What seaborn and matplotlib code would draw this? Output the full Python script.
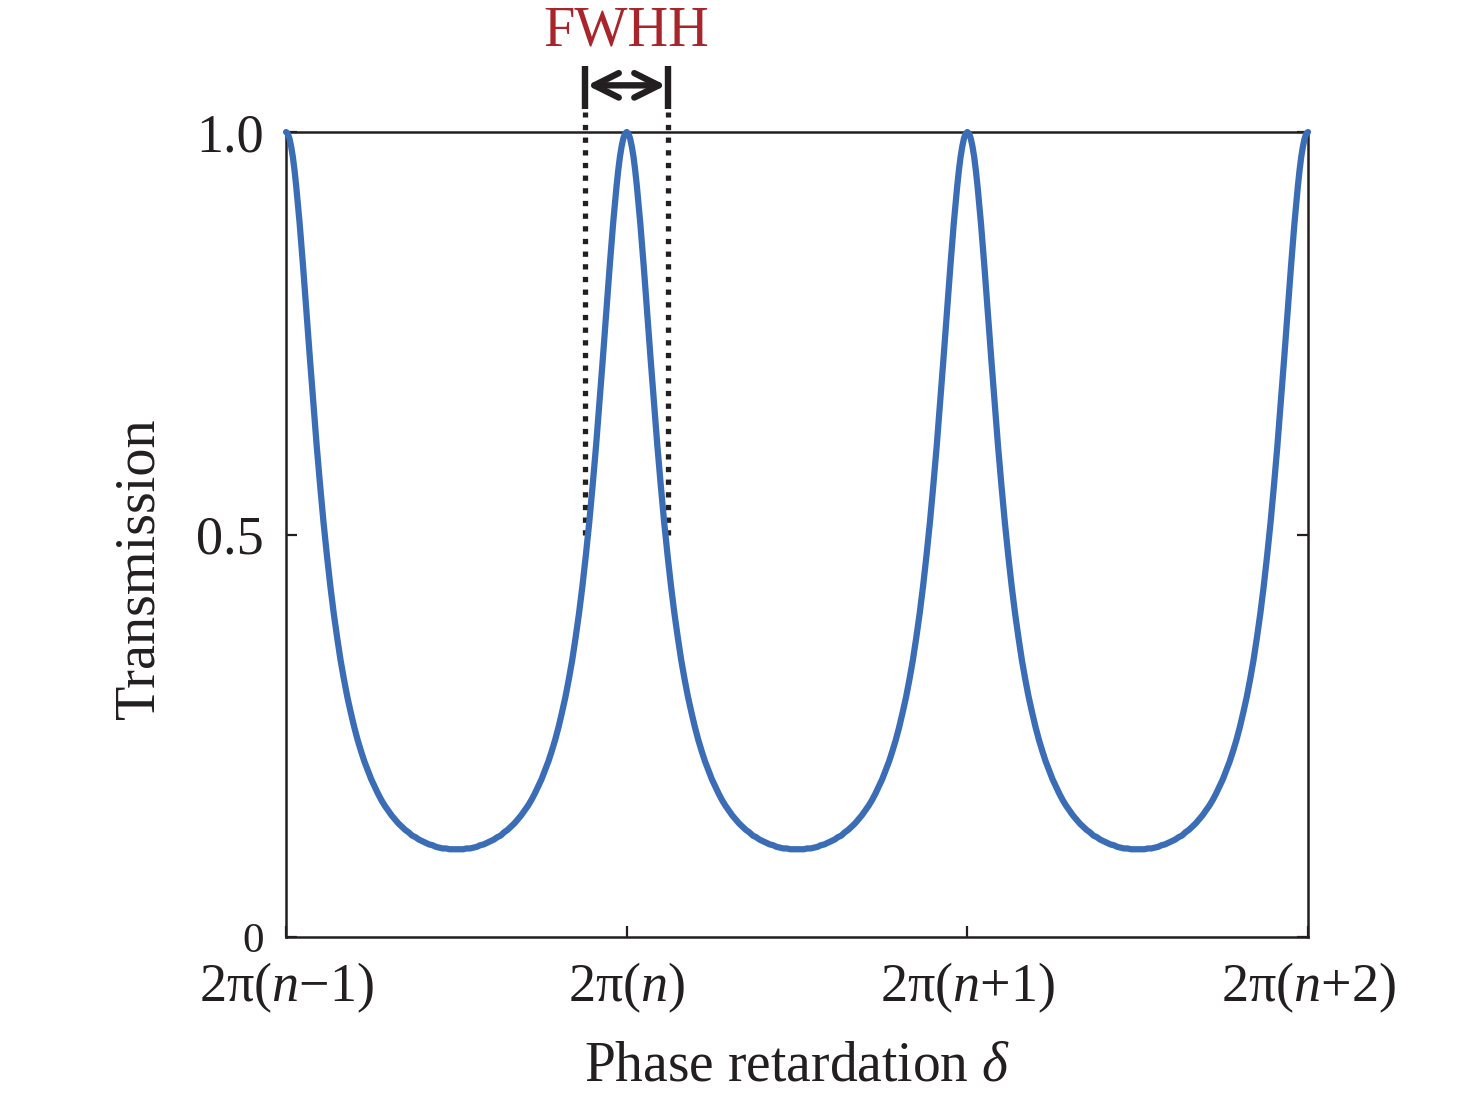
import numpy as np
import pandas as pd
import seaborn as sns
import matplotlib
matplotlib.use('Agg')
import matplotlib.pyplot as plt

# Values: half a period of the transmission curve,
# from a peak (0) to the trough (0.5). The curve is symmetric about the trough.
half_pos = [0.000, 0.005, 0.010, 0.015, 0.020, 0.025, 0.030, 0.040, 0.050, 0.060,
            0.070, 0.080, 0.090, 0.100, 0.110, 0.120, 0.130, 0.140, 0.150, 0.160,
            0.170, 0.180, 0.190, 0.200, 0.210, 0.220, 0.230, 0.240, 0.250, 0.260,
            0.270, 0.280, 0.290, 0.300, 0.310, 0.320, 0.330, 0.340, 0.350, 0.360,
            0.370, 0.380, 0.390, 0.400, 0.410, 0.420, 0.430, 0.440, 0.450, 0.460,
            0.470, 0.480, 0.490, 0.500]
half_val = [1.000, 0.998, 0.992, 0.982, 0.969, 0.952, 0.932, 0.886, 0.833, 0.776,
            0.719, 0.664, 0.610, 0.561, 0.515, 0.474, 0.436, 0.402, 0.372, 0.344,
            0.320, 0.298, 0.279, 0.261, 0.245, 0.231, 0.218, 0.207, 0.196, 0.187,
            0.178, 0.170, 0.163, 0.157, 0.151, 0.146, 0.141, 0.137, 0.133, 0.130,
            0.126, 0.124, 0.121, 0.119, 0.117, 0.115, 0.114, 0.112, 0.111, 0.110,
            0.110, 0.109, 0.109, 0.109]
n_periods = 3

x_ticks = [0, 1, 2, 3]
x_ticklabels = [r'2π($n$−1)', r'2π($n$)', r'2π($n$+1)', r'2π($n$+2)']
y_ticks = [0, 0.5, 1.0]
y_ticklabels = ['0', '0.5', '1.0']

# FWHH markers (x position in periods)
fwhh_left = 0.878
fwhh_right = 1.121
fwhh_level = 0.5

# one full period: rising half mirrored onto the falling half
period_pos = half_pos + [1 - p for p in reversed(half_pos[:-1])]
period_val = half_val + list(reversed(half_val[:-1]))

xs, ys = [], []
for k in range(n_periods):
    xs += [k + p for p in period_pos[:-1]]
    ys += period_val[:-1]
xs.append(n_periods)
ys.append(period_val[-1])
df = pd.DataFrame({'delta': xs, 'T': ys})

sns.set_style('white')
plt.rcParams['font.family'] = ['Liberation Serif', 'DejaVu Serif']
plt.rcParams['mathtext.fontset'] = 'custom'
plt.rcParams['mathtext.rm'] = 'Liberation Serif'
plt.rcParams['mathtext.it'] = 'Liberation Serif:italic'

black = '#231f20'
blue = '#3a6db5'
red = '#a8262b'

fig = plt.figure(figsize=(14.76, 11.03), dpi=100)
ax = fig.add_axes([0.1938, 0.1505, 0.6924, 0.7298])

sns.lineplot(data=df, x='delta', y='T', ax=ax, color=blue, linewidth=4.5,
             sort=False, zorder=5, clip_on=False)

ax.set_xlim(0, 3)
ax.set_ylim(0, 1)

for s in ax.spines.values():
    s.set_color(black)
    s.set_linewidth(1.8)

ax.set_xticks(x_ticks)
ax.set_xticklabels(x_ticklabels)
ax.set_yticks(y_ticks)
ax.set_yticklabels(y_ticklabels)
ax.tick_params(axis='x', direction='in', length=8, width=1.6, color=black,
               labelsize=39, pad=17, labelcolor=black, bottom=True, top=False)
ax.tick_params(axis='y', direction='in', length=8, width=1.6, color=black,
               labelsize=39, pad=16, labelcolor=black, left=True, right=True)
ax.get_yticklabels()[0].set_fontsize(31)

ax.set_xlabel(r'Phase retardation $\delta$', fontsize=40, color=black)
ax.set_ylabel('Transmission', fontsize=40.5, color=black)
ax.xaxis.set_label_coords(0.5, -0.128)
ax.yaxis.set_label_coords(-0.143, 0.457)
ax.xaxis.label.set_va('top')
ax.yaxis.label.set_va('center')

# FWHH annotation: dotted guides, end bars, double arrow
for xv in [fwhh_left, fwhh_right]:
    ax.plot([xv, xv], [fwhh_level, 1.025], color=black, lw=3.8,
            linestyle=(0, (1, 1.4)), clip_on=False, zorder=4)
    ax.plot([xv, xv], [1.028, 1.082], color=black, lw=4.6,
            solid_capstyle='butt', clip_on=False, zorder=4)
ax.annotate('', xy=(fwhh_right - 0.006, 1.058), xytext=(fwhh_left + 0.006, 1.058),
            arrowprops=dict(arrowstyle='<->', lw=4.6, color=black, mutation_scale=44,
                            shrinkA=0, shrinkB=0),
            annotation_clip=False)
ax.text((fwhh_left + fwhh_right) / 2, 1.108, 'FWHH', color=red, fontsize=40.5,
        ha='center', va='baseline')

fig.savefig('out.png', dpi=100)
